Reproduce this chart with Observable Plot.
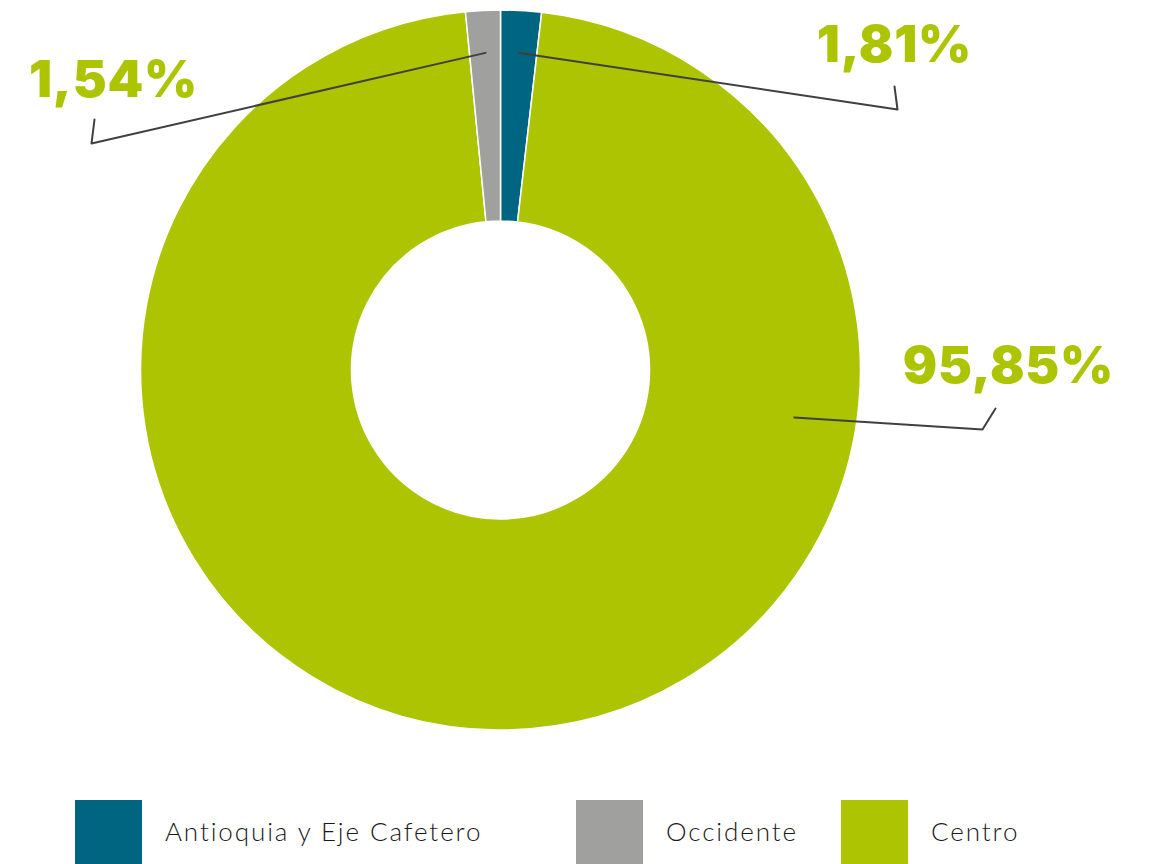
<!DOCTYPE html>
<html><head><meta charset="utf-8">
<script src="https://cdn.jsdelivr.net/npm/d3@7"></script>
<script src="https://cdn.jsdelivr.net/npm/@observablehq/plot@0.6"></script>
<style>
body{margin:0;background:#fff;width:1150px;height:864px;overflow:hidden;position:relative;}
#chart{position:absolute;top:0;left:0;}
#legend{position:absolute;top:800px;left:0;width:1150px;height:67px;}
.item{position:absolute;top:0;height:67px;display:flex;align-items:center;}
.sw{width:67px;height:67px;flex:none;}
.lt{margin-left:23px;font-family:Lato,"DejaVu Sans",sans-serif;font-weight:300;font-size:26px;letter-spacing:1.9px;color:#1a1a1a;position:relative;top:-3px;}
.pct g[aria-label="text"] text{letter-spacing:0.8px;}
</style>
</head><body>
<div id="chart"></div>
<div id="legend"></div>
<script>
// ---- data ----
const regions = ["Antioquia y Eje Cafetero", "Centro", "Occidente"];
const shares = [1.81, 95.85, 1.54];
const shareLabels = ["1,81%", "95,85%", "1,54%"];
const legendOrder = ["Antioquia y Eje Cafetero", "Occidente", "Centro"];
const palette = ["#006580", "#adc402", "#a0a09f"];

// ---- layout (pixel-space annotation layout) ----
const W = 1150, H = 780;
const CX = 500.5, CY = 370, R1 = 360, R0 = 149;
const labelLayout = {
  "Antioquia y Eje Cafetero": {anchorR: 318, anchorAngle: null, elbow: [897, 109], tip: [894, 86], text: [894, 45.5]},
  "Centro": {anchorR: 297, anchorAngle: 99.1, elbow: [982, 429], tip: [995, 408], text: [1008, 366.5]},
  "Occidente": {anchorR: 318, anchorAngle: null, elbow: [91, 143], tip: [94, 119], text: [113, 80.5]}
};
const legendX = {"Antioquia y Eje Cafetero": 75, "Occidente": 576, "Centro": 841};

const rows = regions.map((r, i) => ({region: r, share: shares[i], label: shareLabels[i]}));
const arcs = d3.pie().sort(null).value(d => d.share)(rows);
const color = Plot.scale({color: {type: "ordinal", domain: regions, range: palette}});

// leader lines
const leaders = [];
const texts = [];
arcs.forEach(a => {
  const L = labelLayout[a.data.region];
  const ang = L.anchorAngle != null ? L.anchorAngle * Math.PI / 180 : (a.startAngle + a.endAngle) / 2;
  const sx = CX + L.anchorR * Math.sin(ang), sy = CY - L.anchorR * Math.cos(ang);
  leaders.push({region: a.data.region, x: sx, y: sy});
  leaders.push({region: a.data.region, x: L.elbow[0], y: L.elbow[1]});
  leaders.push({region: a.data.region, x: L.tip[0], y: L.tip[1]});
  texts.push({region: a.data.region, label: a.data.label, x: L.text[0], y: L.text[1]});
});

const donut = (index, scales) => {
  const k = scales.x(1) - scales.x(0);
  const g = d3.create("svg:g").attr("transform", `translate(${scales.x(CX)},${scales.y(CY)})`);
  const arc = d3.arc().innerRadius(R0 * k).outerRadius(R1 * k);
  g.selectAll("path").data(arcs).join("path")
    .attr("d", arc)
    .attr("fill", d => color.apply(d.data.region))
    .attr("stroke", "#fff").attr("stroke-width", 1.5);
  return g.node();
};

const chart = Plot.plot({
  width: W, height: H,
  margin: 0,
  className: "pct",
  x: {domain: [0, W], range: [0, W], axis: null},
  y: {domain: [0, H], range: [0, H], axis: null},
  marks: [
    donut,
    Plot.line(leaders, {x: "x", y: "y", z: "region", stroke: "#404040", strokeWidth: 2}),
    Plot.text(texts, {x: "x", y: "y", text: "label", fill: color.apply("Centro"), fontSize: 51, fontWeight: 900, fontFamily: "Inter, sans-serif", textAnchor: "middle"})
  ]
});
document.getElementById("chart").appendChild(chart);

const legend = document.getElementById("legend");
legendOrder.forEach(r => {
  const it = document.createElement("div");
  it.className = "item";
  it.style.left = legendX[r] + "px";
  const sw = document.createElement("div");
  sw.className = "sw";
  sw.style.background = color.apply(r);
  const t = document.createElement("span");
  t.className = "lt";
  t.textContent = r;
  it.appendChild(sw); it.appendChild(t);
  legend.appendChild(it);
});
</script>
</body></html>
